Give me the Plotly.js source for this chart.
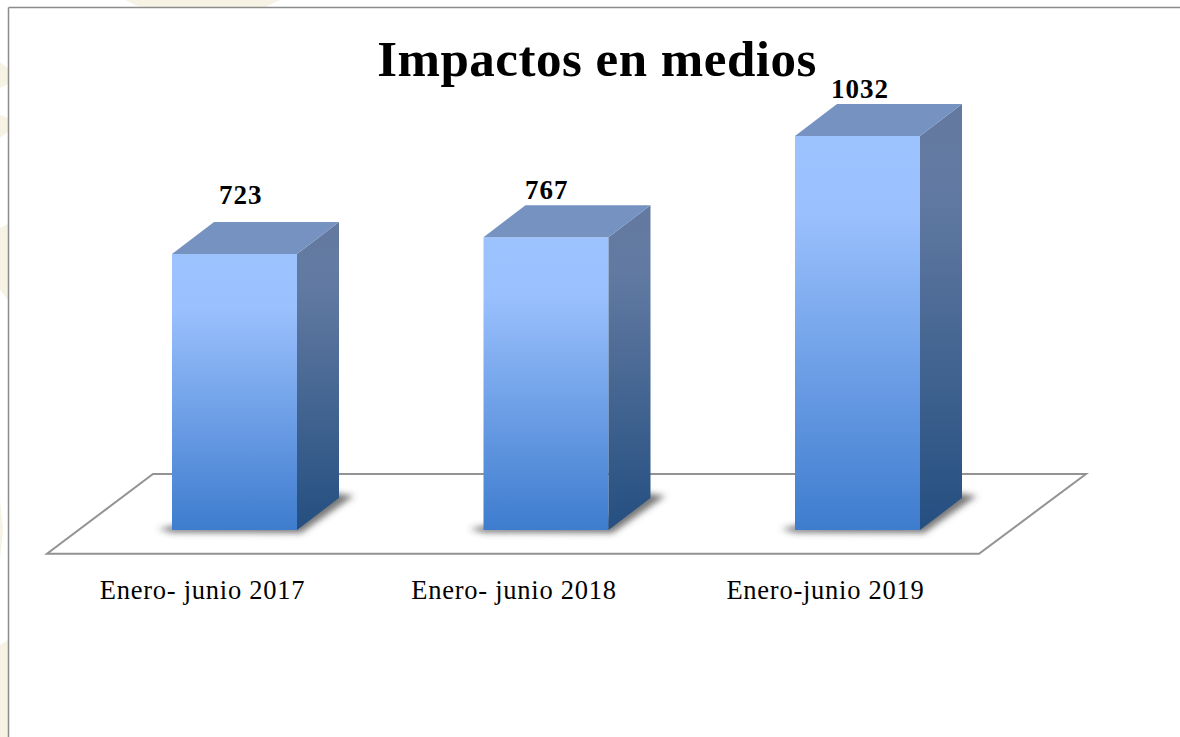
<!DOCTYPE html>
<html>
<head>
<meta charset="utf-8">
<script src="https://cdn.plot.ly/plotly-3.0.1.min.js"></script>
<style>
html,body{margin:0;padding:0;background:#fff;overflow:hidden}
#chart{width:1180px;height:737px}
.xtick text{letter-spacing:0.75px}
.gtitle{letter-spacing:0.5px}
.annotation-text{letter-spacing:1px}
</style>
</head>
<body>
<div id="chart"></div>
<script>
const categories = ['Enero- junio 2017', 'Enero- junio 2018', 'Enero-junio 2019'];
const values = [723, 767, 1032];
const barPositions = [0, 1, 2];
const chartTitle = 'Impactos en medios';

const W = 1180, H = 737;
const plotBottom = 565;
const pxPerX = 311.5, x0px = 234.5;
const pxPerY = 0.3818, y0px = 530;
const xRange = [(0 - x0px) / pxPerX, (W - x0px) / pxPerX];
const yRange = [(y0px - plotBottom) / pxPerY, y0px / pxPerY];
const dX = px => px / pxPerX, dY = px => px / pxPerY;
const barW = dX(125), depthX = dX(42), depthY = dY(32);
const serif = '"Liberation Serif", serif';

const sideTraces = values.map((v, i) => {
  const r = barPositions[i] + barW / 2;
  return {type: 'scatter', mode: 'lines', fill: 'toself', hoverinfo: 'skip', showlegend: false,
    x: [r, r + depthX, r + depthX, r, r], y: [v, v + depthY, depthY, 0, v],
    line: {width: 0, color: 'rgba(0,0,0,0)'}, fillcolor: '#4a6a98', name: 'side'};
});
const topTraces = values.map((v, i) => {
  const l = barPositions[i] - barW / 2, r = l + barW;
  return {type: 'scatter', mode: 'lines', fill: 'toself', hoverinfo: 'skip', showlegend: false,
    x: [l, l + depthX, r + depthX, r, l], y: [v, v + depthY, v + depthY, v, v],
    line: {width: 0, color: 'rgba(0,0,0,0)'}, fillcolor: '#7592c0', name: 'top'};
});

const front = {type: 'bar', x: barPositions, y: values, width: barW, hoverinfo: 'x+y', showlegend: false,
  marker: {color: '#7aa6e8', line: {width: 0}}};

const floorPts = [[47, 553.7], [979, 553.7], [1086, 474], [153, 474]]
  .map(p => [(p[0] - x0px) / pxPerX, (y0px - p[1]) / pxPerY]);
const floorPath = 'M' + floorPts.map(p => p[0] + ',' + p[1]).join('L') + 'Z';

const shadowShapes = values.map((v, i) => {
  const l = barPositions[i] - barW / 2, r = l + barW;
  const pts = [[l - dX(14), dY(1)], [l, dY(-2.5)], [r + dX(4), dY(-3)], [r + depthX + dX(6), depthY + dY(-4)],
    [r + depthX + dX(15), depthY + dY(2)], [r + depthX - dX(5), depthY + dY(5)], [r, dY(12)], [l, dY(4)]];
  return {type: 'path', xref: 'x', yref: 'y', layer: 'below', line: {width: 0},
    fillcolor: 'rgba(70,70,70,0.72)', path: 'M' + pts.map(p => p[0] + ',' + p[1]).join('L') + 'Z', name: 'shadow'};
});

const px = p => p / W, py = p => (plotBottom - p) / plotBottom;
const cream = '#f6f2e4';
const creamPoly = pts => ({type: 'path', xref: 'paper', yref: 'paper', layer: 'below', line: {width: 0}, fillcolor: cream,
  path: 'M' + pts.map(p => px(p[0]) + ',' + py(p[1])).join('L') + 'Z'});
const bgShapes = [
  creamPoly([[0, 62], [8, 68], [8, 84], [0, 88]]),
  creamPoly([[0, 115], [8, 118], [8, 132], [0, 138]]),
  creamPoly([[0, 228], [8, 224], [8, 300], [0, 290]]),
  creamPoly([[0, 500], [3, 530], [0, 560]]),
  creamPoly([[0, 645], [8, 640], [8, 737], [0, 737]]),
  creamPoly([[125, 0], [280, 0], [265, 7], [140, 7]]),
  {type: 'rect', xref: 'paper', yref: 'paper', layer: 'below', x0: px(8), x1: px(W), y0: py(H), y1: py(7), fillcolor: '#fff', line: {width: 0}},
  {type: 'line', xref: 'paper', yref: 'paper', layer: 'below', x0: px(8.5), x1: px(W), y0: py(7.5), y1: py(7.5), line: {color: '#8c8c8c', width: 1.5}},
  {type: 'line', xref: 'paper', yref: 'paper', layer: 'below', x0: px(8.5), x1: px(8.5), y0: py(7.5), y1: py(H), line: {color: '#8c8c8c', width: 1.5}}
];
const floorShape = {type: 'path', xref: 'x', yref: 'y', layer: 'below', path: floorPath,
  fillcolor: 'rgba(255,255,255,0)', line: {color: '#939393', width: 2}};

const labelShiftX = [6, 1, 2], labelShiftY = [59, 47, 47];
const annotations = values.map((v, i) => ({
  x: barPositions[i], y: v, xref: 'x', yref: 'y', text: '<b>' + v + '</b>', showarrow: false,
  xshift: labelShiftX[i], yshift: labelShiftY[i], font: {family: serif, size: 27, color: '#000'}
}));

const layout = {
  width: W, height: H, margin: {l: 0, r: 0, t: 0, b: H - plotBottom, pad: 0},
  paper_bgcolor: 'rgba(0,0,0,0)', plot_bgcolor: 'rgba(0,0,0,0)', showlegend: false,
  title: {text: '<b>' + chartTitle + '</b>', x: 597 / W, xanchor: 'center', y: 1 - 58 / H, yanchor: 'middle',
    font: {family: serif, size: 51, color: '#000'}},
  xaxis: {type: 'linear', range: xRange, tickmode: 'array', tickvals: barPositions.map(p => p + dX(-32)), ticktext: categories,
    ticks: 'outside', tickcolor: 'rgba(0,0,0,0)', ticklen: 1, showgrid: false, zeroline: false, showline: false, tickangle: 0, automargin: false,
    tickfont: {family: serif, size: 26.5, color: '#000'}},
  yaxis: {type: 'linear', range: yRange, visible: false, showgrid: false, zeroline: false, fixedrange: true},
  shapes: bgShapes.concat([floorShape], shadowShapes),
  annotations: annotations
};

Plotly.newPlot('chart', [front].concat(sideTraces, topTraces), layout, {displayModeBar: false, staticPlot: true}).then(gd => {
  const svg = gd.querySelector('svg.main-svg');
  const NS = 'http://www.w3.org/2000/svg';
  const defs = document.createElementNS(NS, 'defs');
  const grad = (id, stops) => {
    const g = document.createElementNS(NS, 'linearGradient');
    g.setAttribute('id', id); g.setAttribute('x1', '0'); g.setAttribute('y1', '0'); g.setAttribute('x2', '0'); g.setAttribute('y2', '1');
    stops.forEach(s => { const e = document.createElementNS(NS, 'stop'); e.setAttribute('offset', s[0]); e.setAttribute('stop-color', s[1]); g.appendChild(e); });
    defs.appendChild(g);
  };
  grad('gFront', [[0, '#9dc3ff'], [0.2, '#9ac0fd'], [1, '#3e7cce']]);
  grad('gSide', [[0, '#64799f'], [0.2, '#627aa2'], [1, '#244f80']]);
  const f = document.createElementNS(NS, 'filter');
  f.setAttribute('id', 'blurS'); f.setAttribute('x', '-20%'); f.setAttribute('y', '-40%'); f.setAttribute('width', '140%'); f.setAttribute('height', '180%');
  const b = document.createElementNS(NS, 'feGaussianBlur'); b.setAttribute('stdDeviation', '3'); f.appendChild(b); defs.appendChild(f);
  svg.insertBefore(defs, svg.firstChild);
  gd.querySelectorAll('.barlayer .point path').forEach(p => p.style.setProperty('fill', 'url(#gFront)'));
  const traces = gd.querySelectorAll('.scatterlayer .trace');
  traces.forEach((t, i) => {
    if (i < values.length) t.querySelectorAll('path.js-fill').forEach(p => p.style.setProperty('fill', 'url(#gSide)'));
  });
  gd.querySelectorAll('.shapelayer path').forEach(p => { if ((p.style.fill || '').indexOf('70, 70, 70') >= 0) p.setAttribute('filter', 'url(#blurS)'); });
});
</script>
</body>
</html>
